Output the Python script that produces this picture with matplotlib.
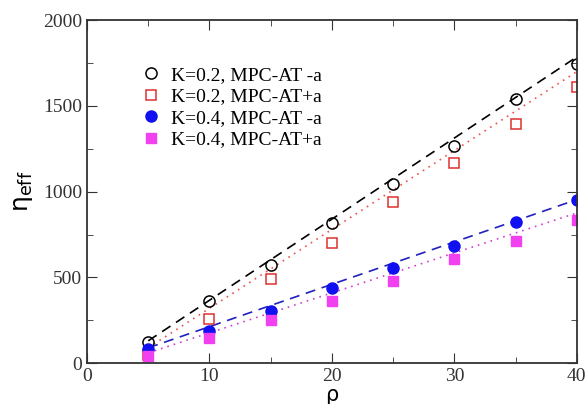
import numpy as np
import matplotlib.pyplot as plt

rho = [5, 10, 15, 20, 25, 30, 35, 40]
k02_minus = [125, 360, 570, 820, 1045, 1265, 1540, 1745]
k02_plus = [45, 260, 490, 700, 940, 1170, 1395, 1610]
k04_minus = [80, 185, 305, 440, 555, 685, 825, 950]
k04_plus = [40, 145, 250, 365, 480, 605, 710, 835]

# linear fits (slope, intercept)
fit_k02_minus = (47.3, -106)
fit_k02_plus = (46.0, -140)
fit_k04_minus = (24.7, -34)
fit_k04_plus = (23.3, -56)

plt.rcParams['font.family'] = ['Liberation Serif', 'DejaVu Serif']
plt.rcParams['mathtext.fontset'] = 'dejavusans'

fig = plt.figure(figsize=(5.88, 4.04), dpi=100)
ax = fig.add_axes([0.148, 0.101, 0.833, 0.849])

xf = np.array([rho[0], rho[-1]])
ax.plot(xf, fit_k02_minus[0] * xf + fit_k02_minus[1], color='black', ls=(0, (6, 4)), lw=1.2)
ax.plot(xf, fit_k02_plus[0] * xf + fit_k02_plus[1], color='#f05050', ls=(0, (1, 3)), lw=1.2)
ax.plot(xf, fit_k04_minus[0] * xf + fit_k04_minus[1], color='#2020c0', ls=(0, (6, 4)), lw=1.2)
ax.plot(xf, fit_k04_plus[0] * xf + fit_k04_plus[1], color='#d040d0', ls=(0, (1, 3)), lw=1.2)

ax.plot(rho, k02_minus, 'o', mfc='none', mec='black', ms=8, mew=1.1, ls='none',
        label='K=0.2, MPC-AT -a')
ax.plot(rho, k02_plus, 's', mfc='none', mec='#e03030', ms=7, mew=1.1, ls='none',
        label='K=0.2, MPC-AT+a')
ax.plot(rho, k04_minus, 'o', color='#1010f0', ms=8, ls='none',
        label='K=0.4, MPC-AT -a')
ax.plot(rho, k04_plus, 's', color='#f040f0', ms=7, ls='none',
        label='K=0.4, MPC-AT+a')

ax.set_xlim(0, 40)
ax.set_ylim(0, 2000)
ax.set_xticks([0, 10, 20, 30, 40])
ax.set_xticks([5, 15, 25, 35], minor=True)
ax.set_yticks([0, 500, 1000, 1500, 2000])
ax.set_yticks([250, 750, 1250, 1750], minor=True)
ax.tick_params(which='both', direction='in', top=True, right=True, labelsize=14,
               colors='#333333')
ax.tick_params(which='major', length=7)
ax.tick_params(which='minor', length=4)
for s in ax.spines.values():
    s.set_linewidth(1.3)
    s.set_color('#333333')

ax.set_xlabel('ρ', fontsize=15, family='DejaVu Sans', labelpad=0)
ax.set_ylabel(r'η$_{\rm eff}$', fontsize=18, family='DejaVu Sans', labelpad=6)

ax.legend(loc='upper left', bbox_to_anchor=(0.08, 0.905), frameon=False, fontsize=14,
          handletextpad=0.4, labelspacing=0.2, handlelength=1.2, borderpad=0.2)

plt.savefig('out.png', dpi=100)
